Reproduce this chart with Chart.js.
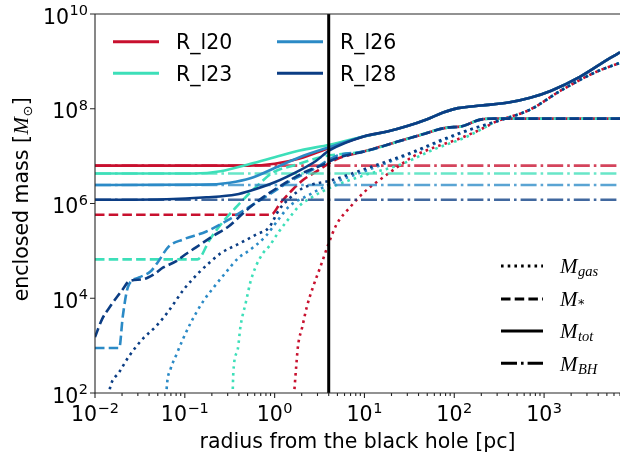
<!DOCTYPE html>
<html>
<head>
<meta charset="utf-8">
<script src="https://cdn.jsdelivr.net/npm/chart.js@4.4.1/dist/chart.umd.min.js"></script>
<style>
  html, body { margin: 0; padding: 0; background: #fff; }
  #wrap { width: 620px; height: 455px; }
</style>
</head>
<body>
<div id="wrap"><canvas id="massChart" width="620" height="455"></canvas></div>
<script>
// enclosed mass profiles, points are [radius (pc), mass (Msun)]
const models = ['R_l20', 'R_l23', 'R_l26', 'R_l28'];
const modelColors = ['#c8102e', '#3ddfb9', '#2b8ac6', '#0b3d84'];
const bhColors = ['rgba(200,16,46,0.78)', 'rgba(61,223,185,0.78)', 'rgba(43,138,198,0.78)', 'rgba(11,61,132,0.78)'];
const bhMass = [6.3e6, 4.3e6, 2.45e6, 1.2e6];
const rMarker = 4; // pc, black vertical line

const xTickExp = [-2, -1, 0, 1, 2, 3];
const yTickExp = [2, 4, 6, 8, 10];

// outer parts where all runs lie on top of each other
const outerTotal = [[10, 2.63e7], [18, 3.3e7], [30, 4.3e7], [50, 6.0e7], [75, 8.3e7], [110, 1.03e8],
  [200, 1.17e8], [400, 1.35e8], [700, 1.7e8], [1200, 2.4e8], [2500, 4.7e8], [5400, 1.17e9], [7000, 1.55e9]];
const outerStars = [[10, 1.26e7], [23, 2.0e7], [42, 2.8e7], [83, 4.0e7], [117, 4.2e7], [195, 5.9e7],
  [280, 6.2e7], [7000, 6.2e7]];
const outerGas = [[295, 5.4e7], [690, 9.5e7], [1580, 2.5e8], [3800, 6.0e8], [7000, 9.3e8]];

// R_l20
const totalR_l20 = [[0.01, 6.3e6], [0.5, 6.3e6], [1.0, 6.9e6], [1.9, 8.9e6], [4.1, 1.5e7]];
const starsR_l20 = [[0.01, 5.8e5], [0.91, 5.8e5], [1.17, 1.05e6], [1.58, 1.95e6], [2.1, 3.2e6],
  [2.9, 4.7e6], [4.8, 8.5e6]];
const gasR_l20 = [[1.62, 63], [1.74, 372], [1.82, 977], [2.04, 2570], [2.29, 6760], [2.69, 1.78e4],
  [3.24, 4.68e4], [3.98, 1.41e5], [4.9, 3.63e5], [6.9, 8.3e5], [9.8, 1.7e6], [14.8, 3.16e6],
  [22.9, 5.75e6], [34.7, 9.8e6], [58.9, 1.51e7], [107, 2.24e7], [195, 3.63e7]];

// R_l23
const totalR_l23 = [[0.01, 4.3e6], [0.126, 4.3e6], [0.25, 4.8e6], [0.54, 6.9e6], [1.0, 9.5e6],
  [1.9, 1.32e7], [4.1, 1.74e7]];
const starsR_l23 = [[0.01, 6.6e4], [0.138, 6.6e4], [0.19, 1.74e5], [0.263, 4.0e5], [0.38, 8.7e5],
  [0.63, 2.3e6], [0.955, 4.5e6], [1.74, 6.6e6], [3.47, 9.8e6]];
const gasR_l23 = [[0.339, 63], [0.347, 275], [0.389, 851], [0.417, 2570], [0.479, 8300], [0.537, 2.19e4],
  [0.617, 4.68e4], [0.741, 8.9e4], [0.871, 1.26e5], [1.1, 2.45e5], [1.41, 4.57e5], [1.86, 8.7e5],
  [2.69, 1.41e6], [4.47, 2.29e6], [10.5, 4.07e6], [25, 6.6e6], [59, 1.38e7], [138, 2.57e7]];

// R_l26
const totalR_l26 = [[0.01, 2.45e6], [0.158, 2.5e6], [0.316, 2.75e6], [0.537, 3.4e6], [1.0, 5.6e6],
  [1.9, 9.5e6], [4.1, 1.55e7]];
const starsR_l26 = [[0.01, 890], [0.0186, 890], [0.0204, 4200], [0.0234, 1.78e4], [0.0309, 2.75e4],
  [0.0417, 3.7e4], [0.05, 5.75e4], [0.066, 1.23e5], [0.0955, 1.74e5], [0.174, 2.57e5], [0.309, 4.57e5],
  [0.513, 8.3e5], [0.871, 1.55e6], [1.45, 2.88e6], [2.69, 5.25e6], [4.79, 1.0e7]];
const gasR_l26 = [[0.0617, 63], [0.0631, 141], [0.0692, 316], [0.0794, 603], [0.0955, 1380], [0.117, 3090],
  [0.158, 8300], [0.214, 1.78e4], [0.288, 3.55e4], [0.398, 7.2e4], [0.513, 1.0e5], [0.794, 2.04e5],
  [1.1, 4.57e5], [1.45, 8.7e5], [2.24, 1.41e6], [4.07, 2.51e6], [10, 4.8e6], [32.4, 1.12e7],
  [74, 2.14e7], [148, 3.55e7]];

// R_l28
const totalR_l28 = [[0.01, 1.2e6], [0.063, 1.23e6], [0.174, 1.35e6], [0.372, 1.55e6], [0.537, 1.86e6],
  [1.0, 2.8e6], [1.9, 5.0e6], [2.88, 7.9e6], [4.07, 1.32e7]];
const starsR_l28 = [[0.01, 1510], [0.012, 3630], [0.0148, 6760], [0.0204, 1.55e4], [0.024, 2.29e4],
  [0.0339, 2.51e4], [0.0447, 3.16e4], [0.0575, 4.47e4], [0.0794, 6.0e4], [0.102, 8.5e4], [0.132, 1.17e5],
  [0.204, 2.04e5], [0.309, 3.3e5], [0.468, 6.8e5], [0.741, 1.35e6], [1.23, 2.51e6], [2.09, 4.47e6],
  [3.47, 6.6e6], [4.79, 8.9e6]];
const gasR_l28 = [[0.0138, 63], [0.0148, 135], [0.0186, 275], [0.024, 603], [0.0339, 1380], [0.0479, 2570],
  [0.066, 5370], [0.0977, 1.55e4], [0.145, 3.55e4], [0.195, 6.0e4], [0.251, 8.9e4], [0.398, 1.41e5],
  [0.631, 2.24e5], [0.871, 3.16e5], [1.12, 7.4e5], [1.45, 1.26e6], [2.09, 2.14e6], [4.47, 3.16e6],
  [9.8, 5.25e6], [32.4, 1.17e7], [74, 2.24e7], [148, 3.63e7]];

const gasInner = [gasR_l20, gasR_l23, gasR_l26, gasR_l28];
const starsInner = [starsR_l20, starsR_l23, starsR_l26, starsR_l28];
const totalInner = [totalR_l20, totalR_l23, totalR_l26, totalR_l28];

const SANS = '20.5px "DejaVu Sans"';
const SUP = '14.5px "DejaVu Sans"';
const MATH = 'italic 21px "Liberation Serif"';
const MATH_SUB = 'italic 14.5px "Liberation Serif"';

const dashes = {
    gas: [2.6, 4.1],
    stars: [9.5, 4.2],
    total: [],
    bh: [16, 4, 2.6, 4]
};

function toPoints(list) {
    return list.map(p => ({ x: p[0], y: p[1] }));
}

const datasets = [];
models.forEach((name, i) => {
    const common = { borderWidth: 2.6, pointRadius: 0, fill: false, cubicInterpolationMode: 'monotone' };
    datasets.push(Object.assign({ label: name + ' gas', data: toPoints(gasInner[i].concat(outerGas)),
        borderColor: modelColors[i], borderDash: dashes.gas }, common));
    datasets.push(Object.assign({ label: name + ' stars', data: toPoints(starsInner[i].concat(outerStars)),
        borderColor: modelColors[i], borderDash: dashes.stars }, common));
    datasets.push(Object.assign({ label: name + ' total', data: toPoints(totalInner[i].concat(outerTotal)),
        borderColor: modelColors[i], borderDash: dashes.total }, common));
    datasets.push(Object.assign({ label: name + ' BH', data: toPoints([[0.01, bhMass[i]], [7000, bhMass[i]]]),
        borderColor: bhColors[i], borderDash: dashes.bh }, common));
});
datasets.push({ label: 'marker', data: toPoints([[rMarker, 1e2], [rMarker, 1e10]]),
    borderColor: '#000', borderWidth: 3, pointRadius: 0 });
// later datasets on top
datasets.forEach((d, i) => { d.order = -i; });

function drawPower(ctx, exp, x, baseline, align) {
    const sup = exp < 0 ? '\u2212' + (-exp) : String(exp);
    ctx.font = SANS;
    const wb = ctx.measureText('10').width;
    ctx.font = SUP;
    const ws = ctx.measureText(sup).width;
    const w = wb + ws + 0.5;
    const left = align === 'center' ? x - w / 2 : x - w;
    ctx.font = SANS;
    ctx.fillText('10', left, baseline);
    ctx.font = SUP;
    ctx.fillText(sup, left + wb + 0.5, baseline - 8.5);
}

function drawHandle(ctx, x1, x2, y, color, dash, width) {
    ctx.save();
    ctx.strokeStyle = color;
    ctx.lineWidth = width;
    ctx.setLineDash(dash);
    ctx.beginPath();
    ctx.moveTo(x1, y);
    ctx.lineTo(x2, y);
    ctx.stroke();
    ctx.restore();
}

function drawMath(ctx, x, baseline, main, sub, subFont, drop) {
    ctx.font = MATH;
    ctx.fillText(main, x, baseline);
    const w = ctx.measureText(main).width;
    ctx.font = subFont || MATH_SUB;
    ctx.fillText(sub, x + w + 0.5, baseline + (drop === undefined ? 3 : drop));
}

const decor = {
    id: 'decor',
    afterDatasetsDraw(chart) {
        const { ctx, chartArea: a, scales: { x, y } } = chart;
        ctx.save();
        ctx.fillStyle = '#000';
        ctx.textAlign = 'left';
        ctx.textBaseline = 'alphabetic';

        // spines
        ctx.strokeStyle = '#262626';
        ctx.lineWidth = 1.1;
        ctx.beginPath();
        ctx.moveTo(a.left, a.top); ctx.lineTo(a.right + 2, a.top);
        ctx.moveTo(a.left, a.top); ctx.lineTo(a.left, a.bottom);
        ctx.lineTo(a.right + 2, a.bottom);
        ctx.stroke();

        // x ticks: majors and minors
        ctx.beginPath();
        xTickExp.forEach(e => {
            for (let m = 1; m <= 9; m++) {
                const v = m * Math.pow(10, e);
                if (v > x.max) break;
                const px = x.getPixelForValue(v);
                ctx.moveTo(px, a.bottom);
                ctx.lineTo(px, a.bottom + (m === 1 ? 5 : 3));
            }
        });
        yTickExp.forEach(e => {
            const py = y.getPixelForValue(Math.pow(10, e));
            ctx.moveTo(a.left, py);
            ctx.lineTo(a.left - 5, py);
        });
        ctx.stroke();

        // tick labels
        xTickExp.forEach(e => drawPower(ctx, e, x.getPixelForValue(Math.pow(10, e)), a.bottom + 28, 'center'));
        yTickExp.forEach(e => drawPower(ctx, e, a.left - 7, y.getPixelForValue(Math.pow(10, e)) + 9.5, 'right'));

        // axis titles
        ctx.font = SANS;
        ctx.textAlign = 'center';
        ctx.fillText('radius from the black hole [pc]', (a.left + a.right) / 2, 448);
        ctx.textAlign = 'left';

        ctx.save();
        ctx.translate(28, 199);
        ctx.rotate(-Math.PI / 2);
        const parts = [
            { t: 'enclosed mass [', f: SANS, dy: 0 },
            { t: 'M', f: MATH, dy: 0 },
            { t: '\u2299', f: '13px "DejaVu Sans"', dy: 4 },
            { t: ']', f: SANS, dy: 0 }
        ];
        let tw = 0;
        parts.forEach(p => { ctx.font = p.f; p.w = ctx.measureText(p.t).width; tw += p.w + 0.5; });
        let cx = -tw / 2;
        parts.forEach(p => { ctx.font = p.f; ctx.fillText(p.t, cx, p.dy); cx += p.w + 0.5; });
        ctx.restore();

        // model legend, two columns
        const legX = [113, 277];
        const legY = [41.7, 73.3];
        models.forEach((name, i) => {
            const col = Math.floor(i / 2), row = i % 2;
            drawHandle(ctx, legX[col], legX[col] + 46, legY[row], modelColors[i], [], 3);
            ctx.fillStyle = '#000';
            ctx.font = SANS;
            ctx.fillText(name, legX[col] + 63, legY[row] + 7.5);
        });

        // component legend
        const compRows = [
            { main: 'M', sub: 'gas', dash: dashes.gas },
            { main: 'M', sub: '*', dash: dashes.stars, font: '13px "DejaVu Sans"', drop: 2 },
            { main: 'M', sub: 'tot', dash: dashes.total },
            { main: 'M', sub: 'BH', dash: dashes.bh }
        ];
        const compY = [266, 299, 331, 363.3];
        compRows.forEach((r, i) => {
            drawHandle(ctx, 501, 543, compY[i], '#000', r.dash, 3);
            ctx.fillStyle = '#000';
            drawMath(ctx, 560, compY[i] + 7.3, r.main, r.sub, r.font, r.drop);
        });
        ctx.restore();
    }
};

const ctx = document.getElementById('massChart').getContext('2d');
new Chart(ctx, {
    type: 'line',
    data: { datasets: datasets },
    options: {
        responsive: false,
        animation: false,
        layout: { padding: { top: 14, right: 0, bottom: 0, left: 0 } },
        plugins: { legend: { display: false }, tooltip: { enabled: false } },
        scales: {
            x: {
                type: 'logarithmic', min: 0.01, max: 7000,
                grid: { display: false }, border: { display: false },
                ticks: { display: false },
                afterFit: s => { s.height = 62; }
            },
            y: {
                type: 'logarithmic', min: 1e2, max: 1e10,
                grid: { display: false }, border: { display: false },
                ticks: { display: false },
                afterFit: s => { s.width = 95; }
            }
        }
    },
    plugins: [decor]
});
</script>
</body>
</html>
